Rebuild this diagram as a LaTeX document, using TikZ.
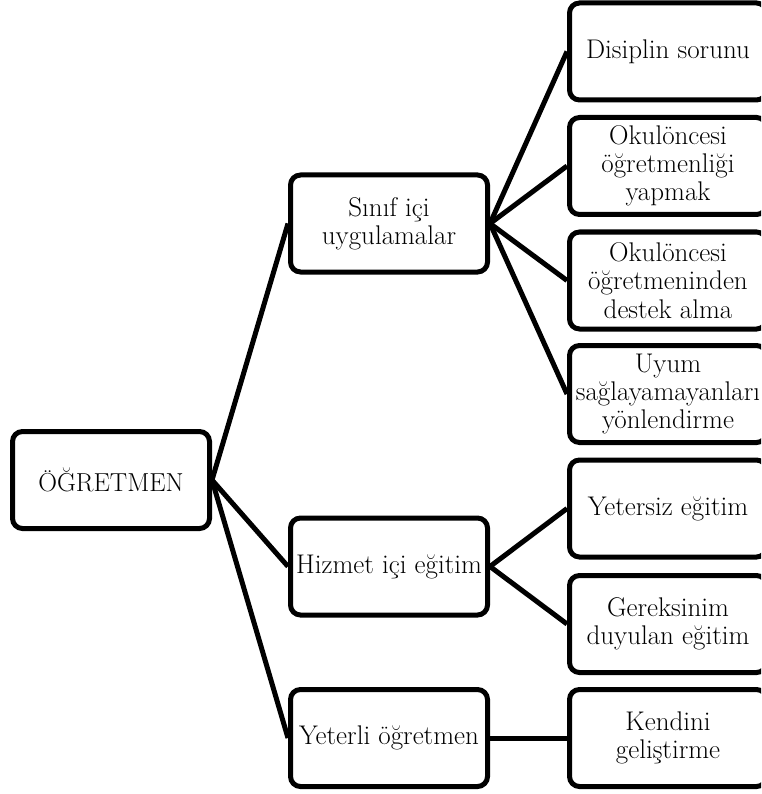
\documentclass[tikz,border=0pt]{standalone}
\usepackage{fontspec}
\begin{document}
\begin{tikzpicture}[x=1pt,y=-1pt,
  box/.style={draw=black,line width=5pt,rounded corners=10pt,fill=white,
    minimum width=197pt,minimum height=97pt,inner sep=1pt,align=center,
    font=\fontsize{27}{28.3}\selectfont},
  conn/.style={draw=black,line width=5pt}]
\clip (0,0) rectangle (761,794);
\fill[white] (0,0) rectangle (761,794);
% nodes
\node[box,font=\fontsize{26}{28.3}\selectfont] (ogr) at (111,480) {ÖĞRETMEN};
\node[box] (sinif) at (389,223.5) {Sınıf içi\\uygulamalar};
\node[box] (hizmet) at (389,566.5) {Hizmet içi eğitim};
\node[box] (yeterli) at (389,738) {Yeterli öğretmen};
\node[box] (disiplin) at (668,51.5) {Disiplin sorunu};
\node[box] (okul1) at (668,166) {Okulöncesi\\öğretmenliği\\yapmak};
\node[box] (okul2) at (668,280.5) {Okulöncesi\\öğretmeninden\\destek alma};
\node[box] (uyum) at (668,394) {Uyum\\sağlayamayanları\\yönlendirme};
\node[box] (yetersiz) at (668,508.5) {Yetersiz eğitim};
\node[box] (gerek) at (668,624) {Gereksinim\\duyulan eğitim};
\node[box] (kendini) at (668,738) {Kendini\\geliştirme};
% connectors
\draw[conn] (ogr.east) -- (sinif.west);
\draw[conn] (ogr.east) -- (hizmet.west);
\draw[conn] (ogr.east) -- (yeterli.west);
\draw[conn] (sinif.east) -- (disiplin.west);
\draw[conn] (sinif.east) -- (okul1.west);
\draw[conn] (sinif.east) -- (okul2.west);
\draw[conn] (sinif.east) -- (uyum.west);
\draw[conn] (hizmet.east) -- (yetersiz.west);
\draw[conn] (hizmet.east) -- (gerek.west);
\draw[conn] (yeterli.east) -- (kendini.west);
\end{tikzpicture}
\end{document}
